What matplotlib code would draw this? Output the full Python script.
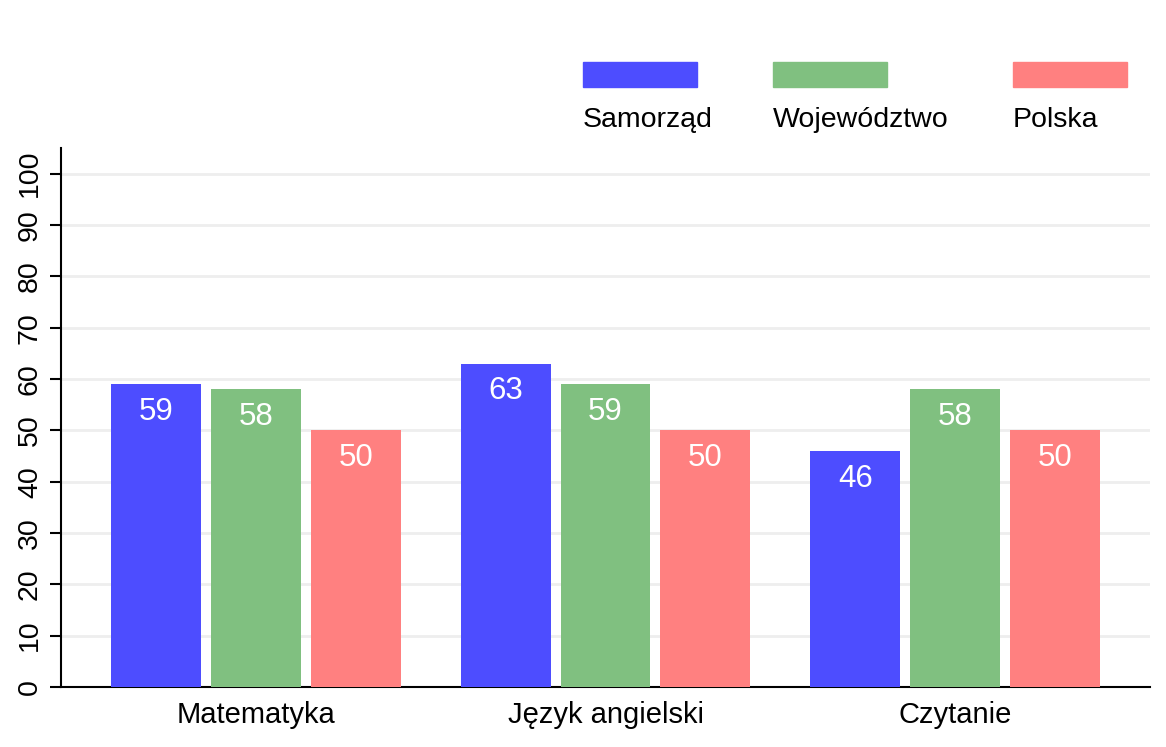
import matplotlib
matplotlib.use("Agg")
import matplotlib.pyplot as plt
from matplotlib.patches import Rectangle
import numpy as np

categories = ["Matematyka", "Język angielski", "Czytanie"]
series_names = ["Samorząd", "Województwo", "Polska"]
samorzad = [59, 63, 46]
wojewodztwo = [58, 59, 58]
polska = [50, 50, 50]
series_values = [samorzad, wojewodztwo, polska]
colors = ["#4D4DFF", "#80C080", "#FF8080"]
yticks = [0, 10, 20, 30, 40, 50, 60, 70, 80, 90, 100]

plt.rcParams['font.family'] = ['Liberation Sans', 'DejaVu Sans']

fig = plt.figure(figsize=(11.66, 7.47), dpi=100)
ax = fig.add_axes([61/1166, 1-687/747, (1150-61)/1166, (687-148)/747])

x = np.arange(len(categories))
bw = 90/350
step = 100/350
for i, (vals, col) in enumerate(zip(series_values, colors)):
    pos = x + (i-1)*step
    ax.bar(pos, vals, width=bw, color=col, zorder=3)
    for xp, v in zip(pos, vals):
        ax.annotate(str(v), (xp, v), xytext=(0, -20), textcoords='offset points',
                    ha='center', va='center', color='white', fontsize=22.5, zorder=4)

ax.set_xlim(-0.557, 0.557 + 2)
ax.set_ylim(0, 105)
ax.set_yticks(yticks)
ax.set_yticklabels([str(t) for t in yticks], rotation=90, va='center', ha='right', fontsize=20.5)
ax.set_xticks(x)
ax.set_xticklabels(categories, fontsize=21)
ax.tick_params(axis='x', length=0, pad=10)
ax.tick_params(axis='y', length=8, width=1.5, pad=5, direction='out')
for s in ['top', 'right']:
    ax.spines[s].set_visible(False)
ax.spines['left'].set_linewidth(1.5)
ax.spines['bottom'].set_linewidth(1.5)
ax.yaxis.grid(True, color='#EEEEEE', linewidth=2, zorder=0)
ax.set_axisbelow(True)

# legend: swatches above labels
leg_x = [583, 773, 1013]
for lx, name, col in zip(leg_x, series_names, colors):
    fig.patches.append(Rectangle((lx/1166, 1-87/747), 114/1166, 25/747,
                                 transform=fig.transFigure, color=col, figure=fig))
    fig.text(lx/1166, 1-120/747, name, ha='left', va='center', fontsize=20.5)

fig.savefig("out.png", dpi=100)
